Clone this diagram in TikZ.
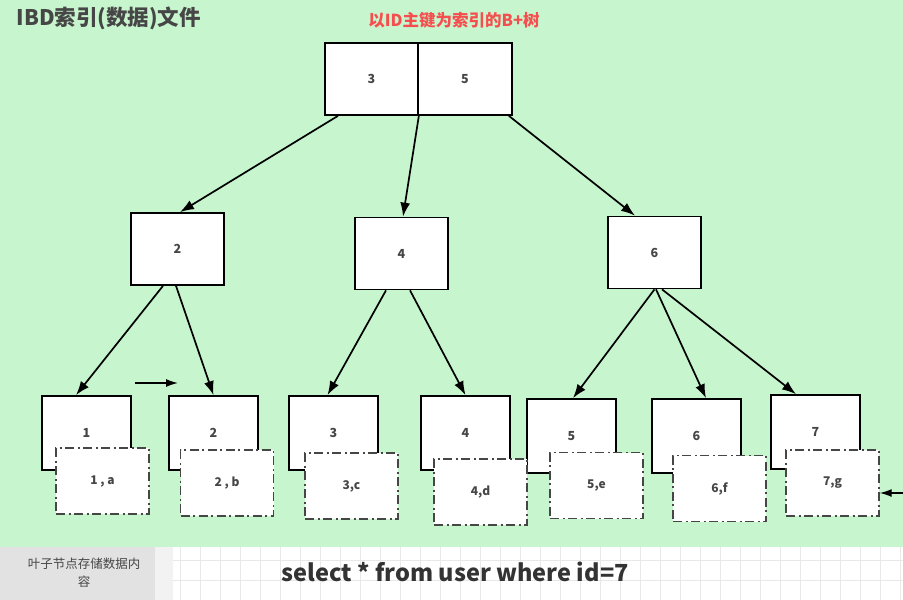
\documentclass[tikz,border=0pt]{standalone}
\usepackage{fontspec}
\setmainfont{Noto Sans CJK SC}
\usetikzlibrary{arrows.meta}
\definecolor{bggreen}{RGB}{199,245,205}
\definecolor{notegray}{RGB}{226,226,226}
\definecolor{stripgray}{RGB}{242,242,242}
\definecolor{gridgray}{RGB}{232,232,232}
\definecolor{txtgray}{RGB}{70,70,70}
\definecolor{titlered}{RGB}{246,78,78}
\begin{document}
\begin{tikzpicture}[x=1pt, y=-1pt,
	keybox/.style={draw=black, fill=white, line width=1.7pt, inner sep=0pt, minimum width=93pt, minimum height=72pt, text=txtgray, font=\fontsize{12.5}{14}\selectfont\bfseries},
	leafbox/.style={keybox, minimum width=89pt, minimum height=74pt},
	databox/.style={draw=txtgray, fill=white, line width=1.4pt, dash pattern=on 9pt off 3.5pt on 2pt off 3.5pt, inner sep=0pt, minimum width=93pt, minimum height=66pt, text=txtgray, font=\fontsize{12}{14}\selectfont\bfseries},
	tarrow/.style={-{Latex[length=14pt,width=10pt]}, line width=1.7pt}]
	  \useasboundingbox (0,0) rectangle (903,600);
	  \fill[bggreen] (0,0) rectangle (903,547);
	  \fill[notegray] (0,547) rectangle (155,600);
	  \fill[stripgray] (155,547) rectangle (173,600);
	  \draw[gridgray, line width=0.5pt, step=20pt] (173,547) grid (903,600);
	  \node[anchor=west, text=txtgray, font=\fontsize{21.5}{24}\selectfont\bfseries] (title) at (13,18) {IBD索引(数据)文件};
	  \node[text=titlered, font=\fontsize{16.5}{18}\selectfont\bfseries] (tree) at (454,20) {以ID主键为索引的B+树};
	  % root
	  \node[keybox] (r3) at (371.5,79) {3};
	  \node[keybox, minimum width=94pt] (r5) at (465,79) {5};
	  % inner nodes
	  \node[keybox] (i2) at (177.5,249) {2};
	  \node[keybox] (i4) at (401.5,253.5) {4};
	  \node[keybox] (i6) at (654.5,252.5) {6};
	  % leaves
	  \node[leafbox] (l1) at (86.5,433) {1};
	  \node[leafbox] (l2) at (213.5,433) {2};
	  \node[leafbox] (l3) at (333.5,433) {3};
	  \node[leafbox] (l4) at (465.5,433) {4};
	  \node[leafbox] (l5) at (571.5,436) {5};
	  \node[leafbox] (l6) at (696.5,436) {6};
	  \node[leafbox] (l7) at (815.5,432) {7};
	  \node[databox] (d1) at (102.5,481) {1 , a};
	  \node[databox] (d2) at (227,483) {2 , b};
	  \node[databox] (d3) at (351.5,486) {3,c};
	  \node[databox] (d4) at (480.5,492) {4,d};
	  \node[databox] (d5) at (596.5,485.5) {5,e};
	  \node[databox] (d6) at (719.5,488.5) {6,f};
	  \node[databox] (d7) at (832.5,483) {7,g};
	  \draw[tarrow] ([xshift=-33.5pt]r3.south) -- ([xshift=2.5pt]i2.north);
	  \draw[tarrow] (r3.south east) -- ([xshift=1.5pt]i4.north);
	  \draw[tarrow] ([xshift=-4pt]r5.south east) -- ([xshift=-19.5pt]i6.north);
	  \draw[tarrow] ([xshift=-14.5pt]i2.south) -- ([xshift=-10.5pt]l1.north);
	  \draw[tarrow] ([xshift=-1.5pt]i2.south) -- (l2.north);
	  \draw[tarrow] ([xshift=-15.5pt]i4.south) -- ([xshift=-6pt]l3.north);
	  \draw[tarrow] ([xshift=8.5pt]i4.south) -- (l4.north);
	  \draw[tarrow] (i6.south) -- ([xshift=1.5pt]l5.north);
	  \draw[tarrow] ([xshift=1.5pt]i6.south) -- ([xshift=9.5pt]l6.north);
	  \draw[tarrow] ([xshift=7.5pt]i6.south) -- ([xshift=-19.5pt]l7.north);
	  % next pointer and search entry
	  \coordinate (nx1) at (135,383);
	  \coordinate (nx2) at (178,383);
	  \draw[tarrow, line width=1.4pt, -{Latex[length=12pt,width=8pt]}] (nx1) -- (nx2);
	  \coordinate (qin) at (903,493);
	  \draw[tarrow, line width=1.4pt, -{Latex[length=12pt,width=8pt]}] (qin) -- (qin -| d7.east);
	  \node[text=txtgray, align=center, font=\fontsize{12.5}{18}\selectfont] (note) at (84,573) {叶子节点存储数据内\\容};
	  \node[anchor=west, text=black!80, font=\fontsize{23.5}{27}\selectfont\bfseries] (sql) at (278,572) {select * from user where id=7};
	\end{tikzpicture}
\end{document}
